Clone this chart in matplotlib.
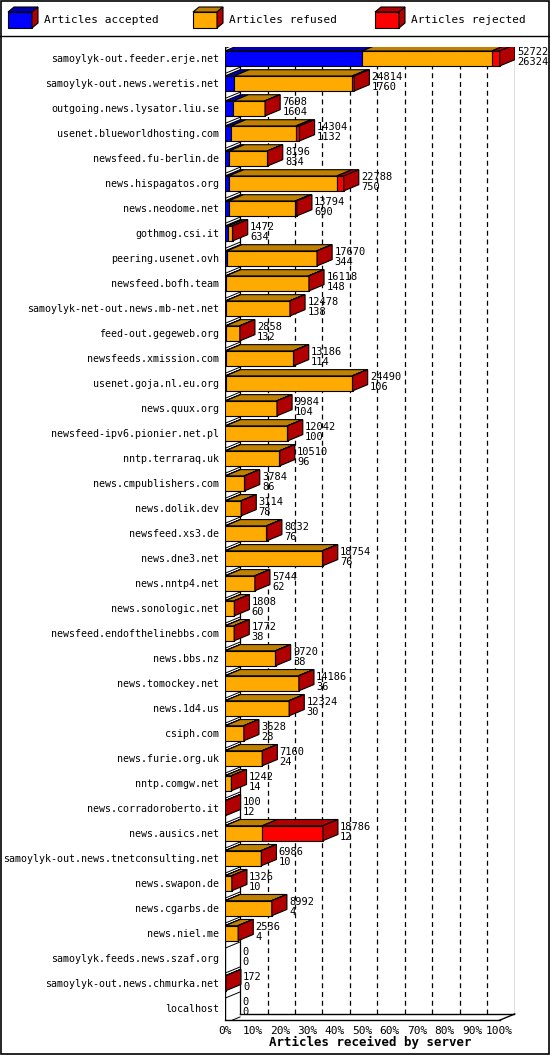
import matplotlib
matplotlib.use("Agg")
import matplotlib.pyplot as plt
from matplotlib.patches import Polygon, Rectangle
import numpy as np

plt.rcParams['font.family'] = ['DejaVu Sans Mono']

servers = ["samoylyk-out.feeder.erje.net", "samoylyk-out.news.weretis.net", "outgoing.news.lysator.liu.se",
           "usenet.blueworldhosting.com", "newsfeed.fu-berlin.de", "news.hispagatos.org", "news.neodome.net",
           "gothmog.csi.it", "peering.usenet.ovh", "newsfeed.bofh.team", "samoylyk-net-out.news.mb-net.net",
           "feed-out.gegeweb.org", "newsfeeds.xmission.com", "usenet.goja.nl.eu.org", "news.quux.org",
           "newsfeed-ipv6.pionier.net.pl", "nntp.terraraq.uk", "news.cmpublishers.com", "news.dolik.dev",
           "newsfeed.xs3.de", "news.dne3.net", "news.nntp4.net", "news.sonologic.net",
           "newsfeed.endofthelinebbs.com", "news.bbs.nz", "news.tomockey.net", "news.1d4.us", "csiph.com",
           "news.furie.org.uk", "nntp.comgw.net", "news.corradoroberto.it", "news.ausics.net",
           "samoylyk-out.news.tnetconsulting.net", "news.swapon.de", "news.cgarbs.de", "news.niel.me",
           "samoylyk.feeds.news.szaf.org", "samoylyk-out.news.chmurka.net", "localhost"]
offered = [52722, 24814, 7698, 14304, 8196, 22788, 13794, 1472, 17670, 16118, 12478, 2858, 13186, 24490,
           9984, 12042, 10510, 3784, 3114, 8032, 18754, 5744, 1808, 1772, 9720, 14186, 12324, 3628, 7160,
           1242, 100, 18786, 6986, 1326, 8992, 2536, 0, 172, 0]
accepted = [26324, 1760, 1604, 1132, 834, 750, 690, 634, 344, 148, 138, 132, 114, 106, 104, 100, 96, 86,
            78, 76, 76, 62, 60, 38, 38, 36, 30, 28, 24, 14, 12, 12, 10, 10, 4, 4, 0, 0, 0]
rejected = [1500, 400, 100, 700, 60, 1300, 300, 60, 80, 80, 80, 40, 80, 80, 60, 60, 60, 40, 40, 60, 80,
            40, 30, 30, 60, 60, 60, 30, 40, 20, 88, 11636, 120, 20, 40, 40, 0, 172, 0]

face = ['#0000ff', '#ffaa00', '#ff0000']
top = ['#0000b0', '#c08000', '#b00000']
side = '#b00000'

fig = plt.figure(figsize=(5.5, 10.55), dpi=100)
ax = fig.add_axes([0.409, 0.033, 0.527, 0.922])
n = len(servers)
vmax = max(offered)
dx, dy, h = 5.5, 0.25, 0.3
ybot = n - 1 + 0.48
ax.set_xlim(0, 105.5)
ax.set_ylim(ybot, -0.44)

# back walls and grid
for p in range(10, 100, 10):
    ax.plot([p + dx, p + dx], [ybot - dy, -0.44], ls=(0, (4, 3)), color='black', lw=0.9, zorder=0)
ax.plot([dx, dx], [ybot - dy, -0.44], color='black', lw=0.9, zorder=0)
ax.plot([100 + dx, 100 + dx], [ybot - dy, -0.44], color='black', lw=0.9, zorder=0)
ax.plot([0, 0], [ybot, -0.44], color='black', lw=1.0, zorder=0)
for i in range(n + 1):
    ax.plot([0, dx], [i - 0.5 + 0.1, i - 0.5 - 0.15], color='black', lw=0.7, zorder=0)
ax.plot([0, 100], [ybot, ybot], color='black', lw=1.0, clip_on=False)
ax.plot([100, 100 + dx, 105.5], [ybot, ybot - dy, ybot - dy], color='black', lw=1.0, clip_on=False)
ax.plot([dx, 105.5], [ybot - dy, ybot - dy], color='black', lw=1.0)

for i in range(n):
    parts = [accepted[i], offered[i] - accepted[i] - rejected[i], rejected[i]]
    x0 = 0.0
    yb, yt = i + h, i - h
    for k, v in enumerate(parts):
        w = v / vmax * 100
        if w <= 0:
            continue
        ax.add_patch(Rectangle((x0, yt), w, 2 * h, facecolor=face[k], edgecolor='black', lw=0.8, zorder=3))
        ax.add_patch(Polygon([(x0, yt), (x0 + dx, yt - dy), (x0 + w + dx, yt - dy), (x0 + w, yt)],
                             facecolor=top[k], edgecolor='black', lw=0.8, zorder=3))
        x0 += w
    if offered[i] > 0:
        ax.add_patch(Polygon([(x0, yt), (x0 + dx, yt - dy), (x0 + dx, yb - dy), (x0, yb)],
                             facecolor=side, edgecolor='black', lw=0.8, zorder=3))
    ax.text(x0 + dx + 0.8, i - 0.05, f"{offered[i]}\n{accepted[i]}", fontsize=7.5, va='center', ha='left',
            linespacing=0.95, zorder=4, clip_on=False)

ax.set_yticks(range(n))
ax.set_yticklabels(servers, fontsize=7.2)
ax.tick_params(axis='y', length=0, pad=4)
ax.set_xticks(range(0, 101, 10))
ax.set_xticklabels([f"{p}%" for p in range(0, 101, 10)], fontsize=8)
ax.tick_params(axis='x', length=0, pad=4)
for s in ax.spines.values():
    s.set_visible(False)
ax.set_xlabel("Articles received by server", fontsize=9, fontweight='bold', labelpad=0)

# legend
legend_names = ["Articles accepted", "Articles refused", "Articles rejected"]
for j, (lx, name) in enumerate(zip([8, 193, 375], legend_names)):
    fig.patches.append(Rectangle((lx / 550, 1 - 28 / 1055), 24 / 550, 16 / 1055, transform=fig.transFigure,
                                 facecolor=face[j], edgecolor='black', lw=0.8))
    fig.patches.append(Polygon([(lx / 550, 1 - 12 / 1055), ((lx + 6) / 550, 1 - 7 / 1055),
                                ((lx + 30) / 550, 1 - 7 / 1055), ((lx + 24) / 550, 1 - 12 / 1055)],
                               transform=fig.transFigure, facecolor=top[j], edgecolor='black', lw=0.8))
    fig.patches.append(Polygon([((lx + 24) / 550, 1 - 12 / 1055), ((lx + 30) / 550, 1 - 7 / 1055),
                                ((lx + 30) / 550, 1 - 23 / 1055), ((lx + 24) / 550, 1 - 28 / 1055)],
                               transform=fig.transFigure, facecolor=side, edgecolor='black', lw=0.8))
    fig.text((lx + 36) / 550, 1 - 20 / 1055, name, fontsize=8, va='center', ha='left')
fig.lines.append(plt.Line2D([0, 1], [1 - 36 / 1055, 1 - 36 / 1055], transform=fig.transFigure,
                            color='black', lw=1))
fig.patches.append(Rectangle((0.001, 0.001), 0.997, 0.998, transform=fig.transFigure, fill=False,
                             edgecolor='black', lw=1.2))

fig.savefig("out.png", dpi=100)
